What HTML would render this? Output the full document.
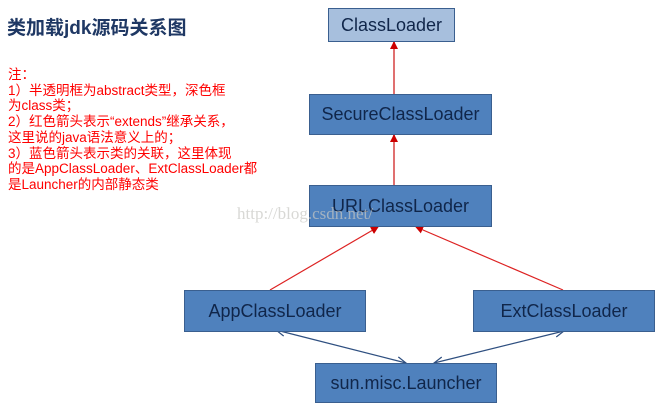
<!DOCTYPE html>
<html><head><meta charset="utf-8"><style>
body{margin:0;background:#fff;width:665px;height:411px;overflow:hidden;position:relative;font-family:"Liberation Sans","Noto Sans CJK SC",sans-serif}
.b{position:absolute;box-sizing:border-box;border:1px solid #3a5f8f;background:#4f81bd;color:#10264a;font-size:18px;display:flex;align-items:center;justify-content:center}
.t{position:absolute;left:7px;top:13px;font-size:19px;font-weight:bold;color:#1f3864}
.n{position:absolute;left:8px;top:67px;font-size:13.5px;line-height:15.7px;color:#f00;white-space:nowrap}
</style></head><body>
<div class="t">类加载jdk源码关系图</div>
<div class="n">注：<br>1）半透明框为abstract类型，深色框<br>为class类；<br>2）红色箭头表示“extends”继承关系，<br>这里说的java语法意义上的；<br>3）蓝色箭头表示类的关联，这里体现<br>的是AppClassLoader、ExtClassLoader都<br>是Launcher的内部静态类</div>
<svg width="665" height="411" style="position:absolute;left:0;top:0">
<defs><marker id="r" markerWidth="8" markerHeight="8" refX="7" refY="4" orient="auto" markerUnits="userSpaceOnUse"><path d="M0,0L8,4L0,8z" fill="#c00"/></marker>
<marker id="bl" markerWidth="10" markerHeight="10" refX="9" refY="5" orient="auto" markerUnits="userSpaceOnUse"><path d="M0,1L9,5L0,9" fill="none" stroke="#2e4f80" stroke-width="1.2"/></marker>
<marker id="bs" markerWidth="10" markerHeight="10" refX="1" refY="5" orient="auto" markerUnits="userSpaceOnUse"><path d="M10,1L1,5L10,9" fill="none" stroke="#2e4f80" stroke-width="1.2"/></marker></defs>
<line x1="394" y1="94" x2="394" y2="42" stroke="#e07070" stroke-width="2" marker-end="url(#r)"/>
<line x1="394" y1="185" x2="394" y2="135" stroke="#e07070" stroke-width="2" marker-end="url(#r)"/>
<line x1="270" y1="290" x2="378" y2="227" stroke="#d22" stroke-width="1.2" marker-end="url(#r)"/>
<line x1="563" y1="290" x2="416" y2="227" stroke="#d22" stroke-width="1.2" marker-end="url(#r)"/>
<line x1="276" y1="330" x2="406" y2="363" stroke="#2e4f80" stroke-width="1.2" marker-start="url(#bs)" marker-end="url(#bl)"/>
<line x1="564" y1="331" x2="434" y2="363" stroke="#2e4f80" stroke-width="1.2" marker-start="url(#bs)" marker-end="url(#bl)"/>
</svg>
<div class="b" style="left:328px;top:8px;width:127px;height:34px;background:#a7bfdd">ClassLoader</div>
<div class="b" style="left:309px;top:94px;width:183px;height:41px">SecureClassLoader</div>
<div class="b" style="left:309px;top:185px;width:183px;height:42px">URLClassLoader</div>
<div class="b" style="left:184px;top:290px;width:182px;height:42px">AppClassLoader</div>
<div class="b" style="left:473px;top:290px;width:182px;height:42px">ExtClassLoader</div>
<div class="b" style="left:315px;top:363px;width:182px;height:40px">sun.misc.Launcher</div>
<div style="position:absolute;left:237px;top:204px;font-family:'Liberation Serif',serif;font-size:17px;color:rgba(200,200,195,0.7)">http://blog.csdn.net/</div>
</body></html>
